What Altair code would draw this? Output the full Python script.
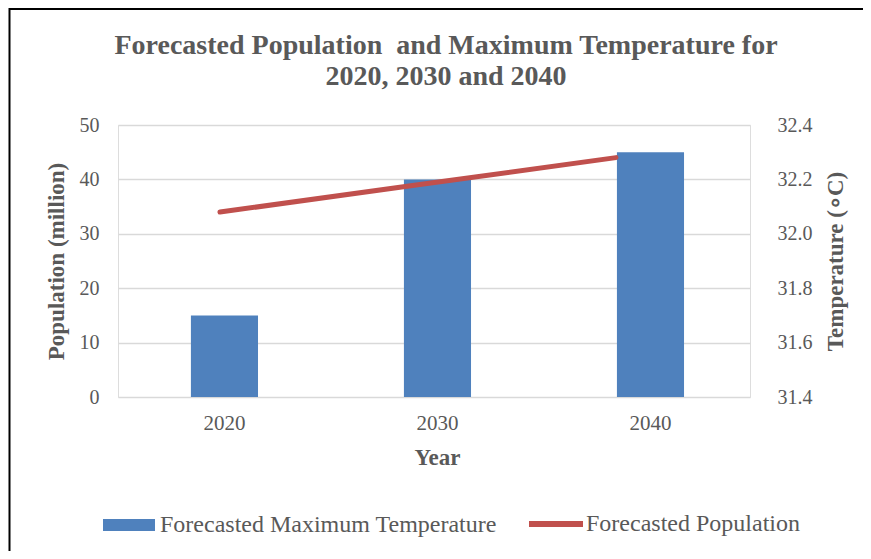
import altair as alt
import pandas as pd

years = ["2020", "2030", "2040"]
year_nums = [2020, 2030, 2040]
population = [15, 40, 45]
temperature = [32.08, 32.18, 32.28]
bar_series = "Forecasted Maximum Temperature"
line_series = "Forecasted Population"
left_ticks = [0, 10, 20, 30, 40, 50]
right_ticks = [31.4, 31.6, 31.8, 32.0, 32.2, 32.4]

df = pd.DataFrame({
    "year": years,
    "year_num": year_nums,
    "pop": population,
    "temp": temperature,
    "bar_s": [bar_series] * 3,
    "line_s": [line_series] * 3,
})

FONT = "Liberation Serif"
TXT = "#595959"
GRID = "#D9D9D9"

base = alt.Chart(df)

bars = base.mark_bar(color="#4F81BD").encode(
    x=alt.X(
        "year:N",
        scale=alt.Scale(paddingInner=0.685, paddingOuter=0.326, align=0.525),
        axis=alt.Axis(
            title="Year", labelAngle=0, labelFont=FONT, labelFontSize=21, labelColor=TXT,
            labelPadding=32, labelBaseline="alphabetic", ticks=False, tickSize=0, domain=False, grid=False,
            titleFont=FONT, titleFontSize=23, titleFontWeight="bold", titleColor=TXT,
            titleX=319, titleY=67, titleBaseline="alphabetic", titleAlign="center",
        ),
    ),
    y=alt.Y(
        "pop:Q",
        scale=alt.Scale(domain=[0, 50], nice=False),
        axis=alt.Axis(
            title="Population (million)", values=left_ticks, labelFont=FONT, labelFontSize=20,
            labelColor=TXT, labelPadding=19, ticks=False, tickSize=0, domain=False,
            grid=True, gridColor=GRID, gridWidth=1.5,
            titleFont=FONT, titleFontSize=23, titleFontWeight="bold", titleColor=TXT,
            titleAngle=-90, titleX=-55, titleY=136, titleBaseline="alphabetic", titleAlign="center",
        ),
    ),
    color=alt.Color(
        "bar_s:N",
        scale=alt.Scale(domain=[bar_series], range=["#4F81BD"]),
        legend=alt.Legend(
            title=None, orient="none", legendX=-15, legendY=374, padding=0,
            symbolType="M-1,-0.23L1,-0.23L1,0.23L-1,0.23Z", symbolSize=2704,
            symbolStrokeWidth=0, labelOffset=5, labelFont=FONT, labelFontSize=24,
            labelColor=TXT, labelLimit=600,
        ),
    ),
)

line = base.mark_line(strokeWidth=5, strokeCap="round").encode(
    x=alt.X("year_num:Q", scale=alt.Scale(domain=[2014.85, 2046.77], nice=False, zero=False), axis=None),
    y=alt.Y(
        "temp:Q",
        scale=alt.Scale(domain=[31.4, 32.4], nice=False, zero=False),
        axis=alt.Axis(
            orient="right", title="Temperature (\u2218C)", values=right_ticks, format=".1f",
            labelFont=FONT, labelFontSize=20, labelColor=TXT, labelPadding=27,
            ticks=False, tickSize=0, domain=False, grid=False,
            titleFont=FONT, titleFontSize=23, titleFontWeight="bold", titleColor=TXT,
            titleAngle=-90, titleX=92, titleY=136, titleBaseline="alphabetic", titleAlign="center",
        ),
    ),
    stroke=alt.Stroke(
        "line_s:N",
        scale=alt.Scale(domain=[line_series], range=["#C0504D"]),
        legend=alt.Legend(
            title=None, orient="none", legendX=408, legendY=369, padding=0,
            symbolType="stroke", symbolSize=2916, symbolStrokeWidth=6,
            labelOffset=0, labelFont=FONT, labelFontSize=24, labelColor=TXT, labelLimit=600,
        ),
    ),
)

frame = alt.Chart(pd.DataFrame({"k": [0]})).mark_rect(
    filled=False, stroke="black", strokeWidth=2
).encode(
    x=alt.value(-108.5), x2=alt.value(900), y=alt.value(-116), y2=alt.value(500)
)

chart = alt.layer(frame, bars, line).resolve_scale(
    x="independent", y="independent"
).properties(
    width=632,
    height=272,
    autosize=alt.AutoSizeParams(type="none"),
    padding={"left": 110, "top": 117, "right": 113, "bottom": 154},
    title=alt.TitleParams(
        text=["Forecasted Population\u00a0 and Maximum Temperature for", "2020, 2030 and 2040"],
        font=FONT, fontSize=28, fontWeight="bold", color=TXT, lineHeight=31,
        anchor="middle", dx=12, offset=-83,
    ),
).configure_view(stroke=None).configure(background="white")

chart.save("out.html", embed_options={"renderer": "svg", "actions": False})
